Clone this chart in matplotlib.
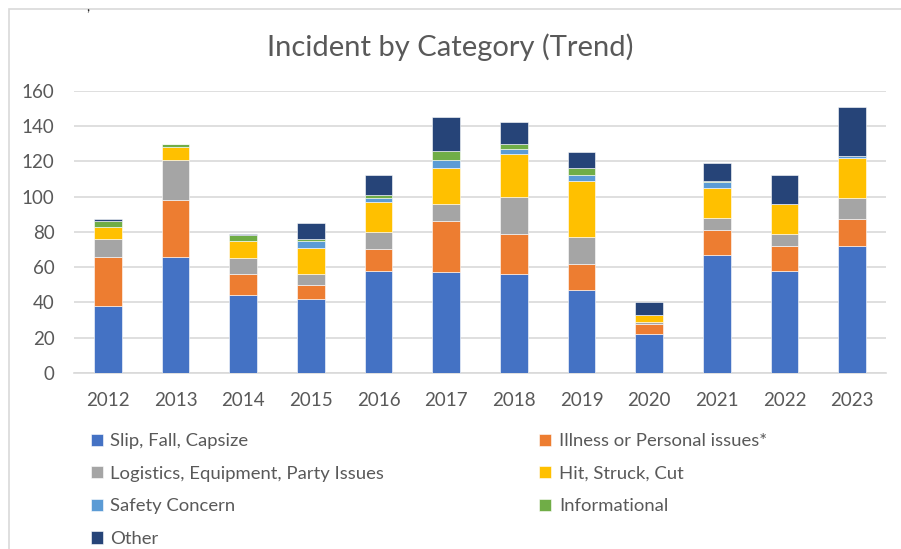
import matplotlib.pyplot as plt
import numpy as np
from matplotlib.patches import Rectangle

plt.rcParams['font.family'] = ['Lato', 'DejaVu Sans']

years = ['2012', '2013', '2014', '2015', '2016', '2017', '2018', '2019', '2020', '2021', '2022', '2023']

slip = [38, 66, 44, 42, 58, 57, 56, 47, 22, 67, 58, 72]
illness = [28, 32, 12, 8, 12, 29, 23, 15, 6, 14, 14, 15]
logistics = [10, 23, 9, 6, 10, 10, 21, 15, 1, 7, 7, 12]
hit = [7, 7, 10, 15, 17, 20, 24, 32, 4, 17, 17, 23]
safety = [0, 0, 0, 4, 2, 5, 3, 3, 0, 3, 0, 1]
informational = [3, 2, 3, 1, 2, 5, 3, 4, 0, 1, 0, 0]
other = [1, 0, 1, 9, 11, 19, 12, 9, 7, 10, 16, 28]

series = [
    ('Slip, Fall, Capsize', slip, '#4472C4'),
    ('Illness or Personal issues*', illness, '#ED7D31'),
    ('Logistics, Equipment, Party Issues', logistics, '#A5A5A5'),
    ('Hit, Struck, Cut', hit, '#FFC000'),
    ('Safety Concern', safety, '#5B9BD5'),
    ('Informational', informational, '#70AD47'),
    ('Other', other, '#264478'),
]

txt = '#595959'

fig = plt.figure(figsize=(9.01, 5.49), dpi=100)
ax = fig.add_axes([0.0821, 0.3206, 0.9013, 0.5142])

# chart border like the excel frame
fig.patches.append(Rectangle((9 / 901, -0.1), 1.0, 1.1 - 9 / 549, transform=fig.transFigure,
                             fill=False, edgecolor='#D9D9D9', linewidth=1.2))

x = np.arange(len(years))
bottom = np.zeros(len(years))
handles = {}
for name, vals, col in series:
    b = ax.bar(x, vals, 0.41, bottom=bottom, color=col, edgecolor='white', linewidth=0.4,
               label=name, zorder=3)
    handles[name] = b
    bottom += np.array(vals)

ax.set_xlim(-0.5, len(years) - 0.5)
ax.set_ylim(0, 160)
ax.set_yticks(range(0, 161, 20))
ax.set_xticks(x)
ax.set_xticklabels(years)
ax.yaxis.grid(True, color='#D9D9D9', linewidth=1.2, zorder=0)
for s in ['top', 'right', 'left']:
    ax.spines[s].set_visible(False)
ax.spines['bottom'].set_color('#D9D9D9')
ax.spines['bottom'].set_linewidth(1.2)
ax.tick_params(length=0, labelsize=13.5, labelcolor=txt)
ax.tick_params(axis='y', pad=14)
ax.tick_params(axis='x', pad=14)

fig.text(0.5, 0.914, 'Incident by Category (Trend)', ha='center', va='center',
         fontsize=21, color=txt)

order = ['Slip, Fall, Capsize', 'Logistics, Equipment, Party Issues', 'Safety Concern', 'Other',
         'Illness or Personal issues*', 'Hit, Struck, Cut', 'Informational']
leg = fig.legend([handles[n] for n in order], order, ncol=2, loc='upper left',
                 bbox_to_anchor=(0.101, 0.211), frameon=False, fontsize=13.3,
                 handlelength=0.65, handleheight=0.65, handletextpad=0.4,
                 columnspacing=8.4, labelspacing=0.9, borderaxespad=0, borderpad=0)
for t in leg.get_texts():
    t.set_color(txt)

fig.text(0.097, 0.997, ',', fontsize=10, color='#222222', ha='center', va='top')

fig.savefig('out.png', dpi=100)
